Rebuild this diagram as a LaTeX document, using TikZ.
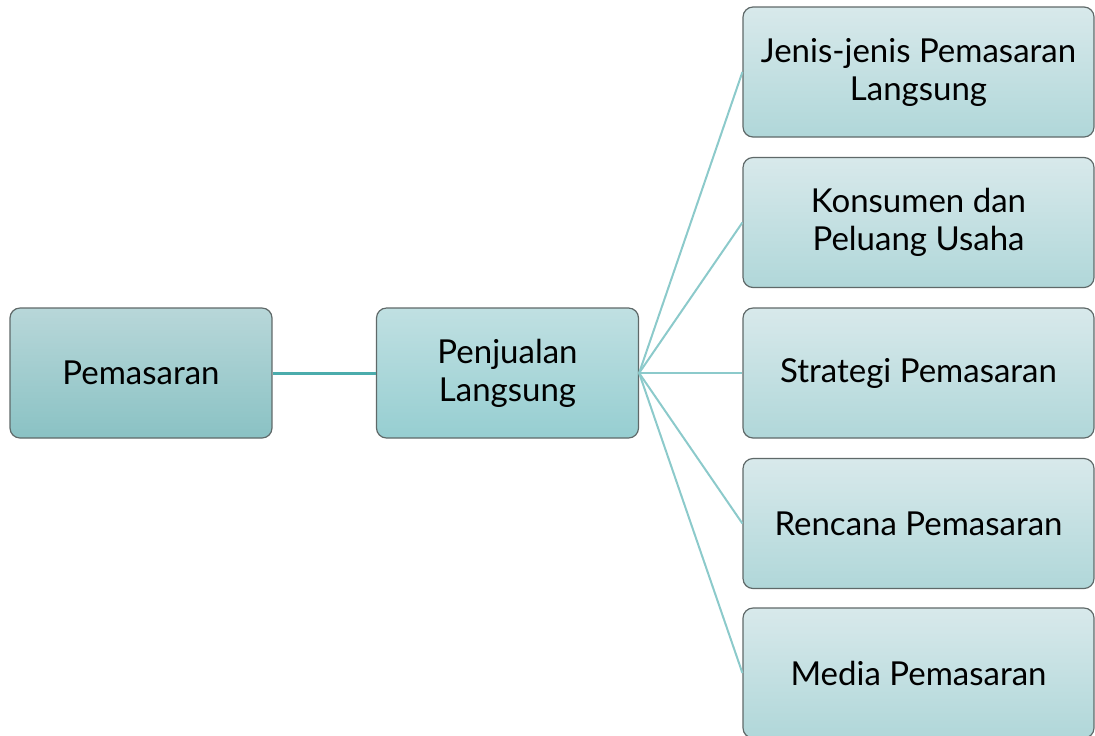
\documentclass[tikz,border=0pt]{standalone}
\usepackage{fontspec}
\setmainfont{Lato}
\usetikzlibrary{positioning}
\definecolor{tealline}{RGB}{75,172,172}
\definecolor{fanline}{RGB}{140,202,203}
\definecolor{boxedge}{RGB}{95,105,105}
\tikzset{
  rootbox/.style={draw=boxedge, line width=0.6pt, rounded corners=5pt, align=center, font=\fontsize{16.5}{19}\selectfont, minimum width=131pt, minimum height=65pt, inner sep=2pt, top color={rgb,255:red,184;green,215;blue,217}, bottom color={rgb,255:red,138;green,194;blue,196}},
  midbox/.style={rootbox, top color={rgb,255:red,192;green,224;blue,226}, bottom color={rgb,255:red,150;green,206;blue,209}},
  leafbox/.style={rootbox, minimum width=175.5pt, top color={rgb,255:red,216;green,233;blue,235}, bottom color={rgb,255:red,176;green,215;blue,217}},
  trunk/.style={draw=tealline, line width=1.5pt},
  branch/.style={draw=fanline, line width=1pt},
}
\begin{document}
\begin{tikzpicture}[x=0.5pt, y=-0.5pt]
\useasboundingbox (0,0) rectangle (1095,735);
\node[rootbox] (pm) at (141,373) {Pemasaran};
\node[midbox] (pl) at (507.5,373) {Penjualan\\Langsung};
\node[leafbox] (jn) at (918.5,72) {Jenis-jenis Pemasaran\\Langsung};
\node[leafbox] (kn) at (918.5,222.5) {Konsumen dan\\Peluang Usaha};
\node[leafbox] (st) at (918.5,373) {Strategi Pemasaran};
\node[leafbox] (rn) at (918.5,523.5) {Rencana Pemasaran};
\node[leafbox] (md) at (918.5,673) {Media Pemasaran};
\draw[trunk] (pm.east) -- (pl.west);
\draw[branch] (pl.east) -- (jn.west);
\draw[branch] (pl.east) -- (kn.west);
\draw[branch] (pl.east) -- (st.west);
\draw[branch] (pl.east) -- (rn.west);
\draw[branch] (pl.east) -- (md.west);
\end{tikzpicture}
\end{document}
